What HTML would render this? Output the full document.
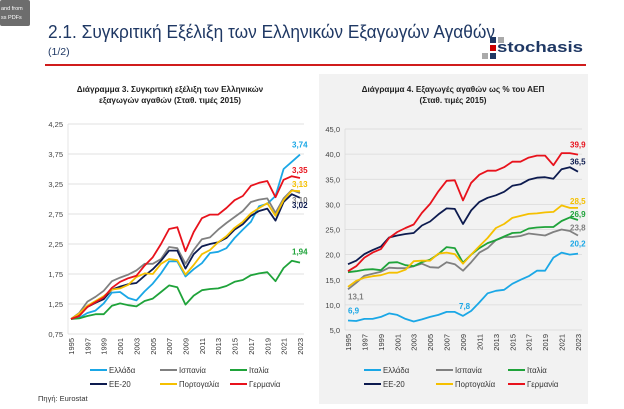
<!DOCTYPE html>
<html><head><meta charset="utf-8">
<style>
html,body{margin:0;padding:0;background:#fff;}
body{width:624px;height:404px;overflow:hidden;position:relative;font-family:"Liberation Sans","DejaVu Sans",sans-serif;}
svg text{font-family:"Liberation Sans","DejaVu Sans",sans-serif;}
</style></head>
<body>
<svg id="page" width="624" height="404" viewBox="0 0 624 404">
  <rect x="0" y="0" width="624" height="404" fill="#fff"/>
  <rect x="0" y="0" width="30" height="26" rx="2" fill="#6d6d6d"/>
  <text x="1" y="10" font-size="5.5" fill="#fff">and from</text>
  <text x="1" y="19" font-size="5.5" fill="#fff">ss PDFs</text>
  <text x="48" y="38" font-size="18.5" fill="#1f3864" textLength="447" lengthAdjust="spacingAndGlyphs">2.1. Συγκριτική Εξέλιξη των Ελληνικών Εξαγωγών Αγαθών</text>
  <text x="48" y="55" font-size="10.5" fill="#1f3864">(1/2)</text>
  <g>
    <rect x="490" y="37" width="6" height="6" fill="#1f3864"/><rect x="498" y="37" width="6" height="6" fill="#aaa"/>
    <rect x="490" y="45" width="6" height="6" fill="#c00"/><rect x="482" y="53" width="6" height="6" fill="#aaa"/><rect x="490" y="53" width="6" height="6" fill="#1f3864"/>
    <text x="497" y="52" font-size="15" fill="#1f3864" font-weight="bold" textLength="86" lengthAdjust="spacingAndGlyphs">stochasis</text>
  </g>
  <rect x="45" y="64" width="541" height="2" fill="#d01c1c"/>
  <rect x="319" y="74" width="269" height="330" fill="#f2f2f2"/>
  <text x="170" y="92" font-size="8.2" font-weight="bold" text-anchor="middle" fill="#222">Διάγραμμα 3. Συγκριτική εξέλιξη των Ελληνικών</text>
  <text x="170" y="103" font-size="8.2" font-weight="bold" text-anchor="middle" fill="#222">εξαγωγών αγαθών (Σταθ. τιμές 2015)</text>
  <text x="453" y="92" font-size="8.2" font-weight="bold" text-anchor="middle" fill="#222">Διάγραμμα 4. Εξαγωγές αγαθών ως % του ΑΕΠ</text>
  <text x="453" y="103" font-size="8.2" font-weight="bold" text-anchor="middle" fill="#222">(Σταθ. τιμές 2015)</text>
  <g id="c1"></g>
  <g id="c2"></g>
  <text x="38" y="401" font-size="7.5" fill="#333">Πηγή: Eurostat</text>
</svg>
<script>
const years = [];
for (let y = 1995; y <= 2023; y++) years.push(y);
const seriesNames = ["Ελλάδα","Ισπανία","Ιταλία","ΕΕ-20","Πορτογαλία","Γερμανία"];
const seriesColors = ["#1aa7e6","#808080","#1fa33a","#0d1b4f","#f5c000","#e8121c"];
const c1Greece = [1.00,1.02,1.10,1.14,1.26,1.44,1.45,1.35,1.31,1.46,1.59,1.76,1.96,1.96,1.71,1.83,1.93,2.10,2.12,2.18,2.35,2.49,2.62,2.88,2.92,3.05,3.50,3.62,3.74];
const c1Spain = [1.00,1.10,1.29,1.37,1.47,1.63,1.69,1.74,1.81,1.92,1.92,2.00,2.20,2.18,1.92,2.15,2.33,2.36,2.49,2.60,2.70,2.80,2.95,2.99,3.01,2.77,3.01,3.15,3.10];
const c1Italy = [1.00,1.01,1.05,1.08,1.08,1.22,1.26,1.23,1.21,1.30,1.34,1.45,1.56,1.53,1.24,1.39,1.48,1.50,1.51,1.55,1.62,1.65,1.73,1.76,1.78,1.63,1.85,1.97,1.94];
const c1EU = [1.00,1.07,1.20,1.27,1.33,1.49,1.54,1.58,1.60,1.72,1.83,1.97,2.14,2.14,1.84,2.08,2.21,2.25,2.28,2.35,2.49,2.58,2.72,2.80,2.84,2.64,2.95,3.08,3.02];
const c1Portugal = [1.00,1.09,1.22,1.30,1.38,1.49,1.51,1.57,1.70,1.76,1.75,1.92,2.00,1.98,1.74,1.90,2.08,2.15,2.28,2.38,2.52,2.62,2.76,2.85,2.93,2.72,2.98,3.14,3.13];
const c1Germany = [1.00,1.05,1.20,1.28,1.36,1.52,1.62,1.68,1.72,1.89,2.03,2.25,2.50,2.53,2.13,2.45,2.68,2.74,2.74,2.85,2.98,3.05,3.22,3.27,3.30,3.03,3.32,3.38,3.35];
const c1Ticks = [0.75,1.25,1.75,2.25,2.75,3.25,3.75,4.25];
const c2Greece = [6.9,6.8,7.2,7.2,7.6,8.3,8.0,7.2,6.7,7.1,7.6,8.0,8.6,8.6,7.8,8.8,10.5,12.3,12.8,13.0,14.2,15.0,15.7,16.8,16.8,19.4,20.4,20.0,20.2];
const c2Spain = [13.1,14.4,15.8,16.2,16.6,17.4,17.3,17.3,17.7,18.2,17.5,17.4,18.5,18.1,16.8,18.5,20.4,21.3,22.9,23.5,23.5,23.7,24.2,24.0,23.8,24.5,25.0,24.7,23.8];
const c2Italy = [16.5,16.7,17.0,17.1,16.9,18.4,18.5,17.9,17.7,18.5,19.0,20.1,21.5,21.3,18.4,20.0,21.3,22.3,22.9,23.6,24.3,24.4,25.2,25.4,25.5,25.5,26.7,27.4,26.9];
const c2EU = [18.1,18.8,20.1,20.9,21.6,23.4,23.8,24.1,24.3,25.8,26.6,28.0,29.2,29.1,26.1,28.8,30.5,31.3,31.8,32.5,33.7,34.0,34.9,35.3,35.4,35.1,37.0,37.4,36.5];
const c2Portugal = [13.6,14.8,15.4,15.7,15.9,16.4,16.4,17.0,18.7,18.8,18.8,20.2,20.4,20.1,18.2,20.0,21.7,23.3,25.3,26.1,27.3,27.7,28.1,28.2,28.4,28.5,29.8,29.3,29.3];
const c2Germany = [16.7,17.7,19.4,20.4,21.1,23.3,24.5,25.3,26.0,28.3,30.1,32.6,34.7,34.8,30.8,34.3,35.9,36.7,36.7,37.4,38.5,38.5,39.3,39.7,39.7,37.8,40.2,40.2,39.9];
const c2Ticks = [5,10,15,20,25,30,35,40,45];
const c1Series = [c1Greece,c1Spain,c1Italy,c1EU,c1Portugal,c1Germany];
const c2Series = [c2Greece,c2Spain,c2Italy,c2EU,c2Portugal,c2Germany];
const c1Labels = [{s:0,i:28,t:"3,74",dy:-7},{s:5,i:28,t:"3,35",dy:-5},{s:4,i:28,t:"3,13",dy:-4},{s:1,i:28,t:"3,10",dy:10},{s:3,i:28,t:"3,02",dy:10},{s:2,i:28,t:"1,94",dy:-8}];
const c2Labels = [{s:5,i:28,t:"39,9",dy:-7},{s:3,i:28,t:"36,5",dy:-7},{s:4,i:28,t:"28,5",dy:-4},{s:2,i:28,t:"26,9",dy:-3},{s:1,i:28,t:"23,8",dy:-5},{s:0,i:28,t:"20,2",dy:-7},{s:1,i:0,t:"13,1",dy:10},{s:0,i:0,t:"6,9",dy:-7},{s:0,i:14,t:"7,8",dy:-7}];

const NS = "http://www.w3.org/2000/svg";
function mk(tag, attrs, parent){const e=document.createElementNS(NS,tag);for(const k in attrs)e.setAttribute(k,attrs[k]);parent.appendChild(e);return e;}
function fmt(v,d){return v.toFixed(d).replace('.',',');}

function drawChart(g, cfg){
  const xS = i => cfg.x0 + (cfg.x1-cfg.x0)*i/(years.length-1);
  const yS = v => cfg.yB - (v-cfg.vMin)/(cfg.vMax-cfg.vMin)*(cfg.yB-cfg.yT);
  cfg.ticks.forEach(t=>{
    const y=yS(t);
    const gl=mk('line',{x1:cfg.gx0,x2:cfg.gx1,y1:y,y2:y,stroke:'#d9d9d9','stroke-width':0.7},g);
    
    
    const tl=mk('text',{x:cfg.gx0-5,y:y+3,'font-size':7.5,'text-anchor':'end',fill:'#444'},g);
    tl.textContent=fmt(t,cfg.dec);
    
    
  });
  const ax=mk('line',{x1:cfg.gx0,x2:cfg.gx0,y1:cfg.yT,y2:cfg.yB,stroke:'#d9d9d9','stroke-width':0.7},g);
  
  
  years.forEach((yr,i)=>{
    if(i%2) return;
    const x=xS(i);
    const t=mk('text',{x:0,y:0,'font-size':7.5,'text-anchor':'end',fill:'#333',transform:`translate(${x+3},${cfg.yB+4}) rotate(-90)`},g);
    t.textContent=yr;
    
    
  });
  cfg.series.forEach((s,si)=>{
    const p=mk('polyline',{points:s.map((v,i)=>xS(i).toFixed(1)+','+yS(v).toFixed(1)).join(' '),fill:'none',stroke:seriesColors[si],'stroke-width':1.8,'stroke-linejoin':'round'},g);
    
    
  });
  cfg.labels.forEach(l=>{
    let x=xS(l.i)-8;
    if(l.i===0) x=xS(l.i);
    if(l.i===14) x=xS(l.i)-4;
    const t=mk('text',{x:x,y:yS(cfg.series[l.s][l.i])+l.dy,'font-size':8,'font-weight':'bold',fill:seriesColors[l.s]},g);
    t.textContent=l.t;
    
    
  });
  [0,1,2,3,4,5].forEach((si,k)=>{
    const col=k%3,row=Math.floor(k/3);
    const lx=cfg.legX+col*cfg.legDx, ly=cfg.legY+row*14;
    const ln=mk('line',{x1:lx,x2:lx+17,y1:ly,y2:ly,stroke:seriesColors[si],'stroke-width':2},g);
    
    
    const t=mk('text',{x:lx+19,y:ly+3,'font-size':7.8,fill:'#333'},g);
    t.textContent=seriesNames[si];
    
    
  });
}
drawChart(document.getElementById('c1'),{x0:71,x1:300,gx0:68,gx1:304,yT:124,yB:334,vMin:0.75,vMax:4.25,ticks:c1Ticks,dec:2,series:c1Series,labels:c1Labels,legX:90,legDx:70,legY:370});
drawChart(document.getElementById('c2'),{x0:348,x1:578,gx0:345,gx1:582,yT:129,yB:330,vMin:5,vMax:45,ticks:c2Ticks,dec:1,series:c2Series,labels:c2Labels,legX:364,legDx:72,legY:370});
</script>
</body></html>
